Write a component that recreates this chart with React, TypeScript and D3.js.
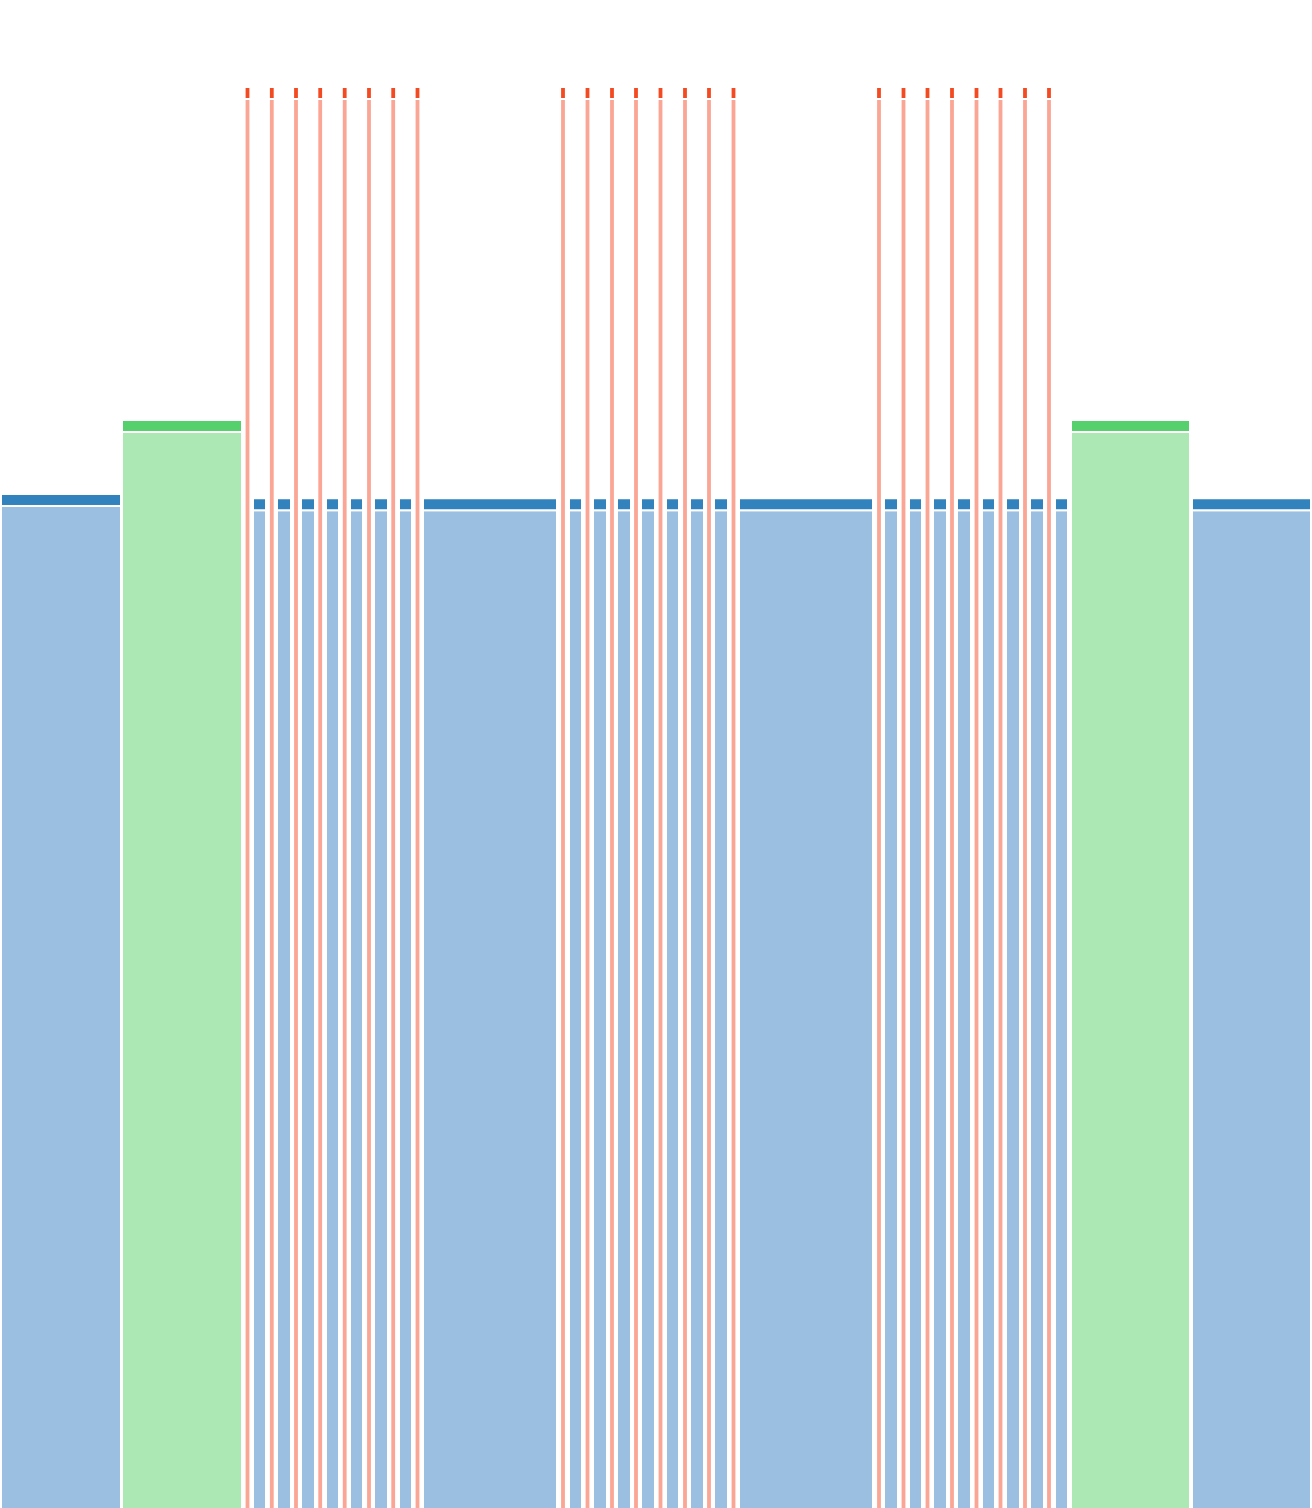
import React, { useEffect, useRef } from 'react';
import * as d3 from 'd3';

// span of each bar on the x axis (start, end) and its value
const blueStarts = [
  1, 253, 277, 301, 326, 350, 374, 399, 423, 569, 593, 617, 641, 666, 690, 714,
  739, 884, 909, 933, 957, 982, 1006, 1030, 1055, 1192,
];
const blueEnds = [
  121, 266, 291, 315, 339, 363, 388, 412, 557, 582, 607, 631, 655, 679, 704, 728,
  873, 898, 922, 947, 971, 995, 1020, 1044, 1068, 1311,
];
const blueValues = [
  71.4, 71.1, 71.1, 71.1, 71.1, 71.1, 71.1, 71.1, 71.1, 71.1, 71.1, 71.1, 71.1,
  71.1, 71.1, 71.1, 71.1, 71.1, 71.1, 71.1, 71.1, 71.1, 71.1, 71.1, 71.1, 71.1,
];

const greenStarts = [122, 1071];
const greenEnds = [242, 1190];
const greenValues = [76.6, 76.6];

const redCenters = [
  247.5, 271.8, 296, 320.2, 344.7, 369, 393.2, 417.5, 563, 587.5, 612, 636,
  660.5, 685, 709, 733.5, 879, 903.5, 927.5, 952, 976.5, 1000.5, 1025, 1049,
];
const redValues = redCenters.map(() => 100);

const series = [
  { name: 'blue', dark: '#3182bd', light: '#9bbfe0' },
  { name: 'green', dark: '#55d06c', light: '#abe8b4' },
  { name: 'red', dark: '#f34a21', light: '#fba594' },
];

const W = 1312;
const H = 1508;
const CAP = 12;

interface Bar {
  start: number;
  end: number;
  value: number;
  kind: string;
}

const App: React.FC = () => {
  const ref = useRef<SVGSVGElement>(null);

  useEffect(() => {
    if (!ref.current) return;
    const svg = d3.select(ref.current);
    svg.selectAll('*').remove();

    const bars: Bar[] = [
      ...blueStarts.map((s, i) => ({ start: s, end: blueEnds[i], value: blueValues[i], kind: 'blue' })),
      ...greenStarts.map((s, i) => ({ start: s, end: greenEnds[i], value: greenValues[i], kind: 'green' })),
      ...redCenters.map((c, i) => ({ start: c - 2.9, end: c + 2.9, value: redValues[i], kind: 'red' })),
    ];

    const x = d3.scaleLinear().domain([0, W]).range([0, W]);
    const y = d3.scaleLinear().domain([0, 100]).range([H + 2, 87]);
    const dark = d3.scaleOrdinal<string, string>()
      .domain(series.map((d) => d.name))
      .range(series.map((d) => d.dark));
    const light = d3.scaleOrdinal<string, string>()
      .domain(series.map((d) => d.name))
      .range(series.map((d) => d.light));

    const g = svg.append('g');

    // light body below the cap
    g.selectAll('rect.body')
      .data(bars)
      .enter()
      .append('rect')
      .attr('class', 'body')
      .attr('x', (d) => x(d.start))
      .attr('width', (d) => x(d.end) - x(d.start))
      .attr('y', (d) => y(d.value) + CAP)
      .attr('height', (d) => y(0) - y(d.value) - CAP)
      .attr('fill', (d) => light(d.kind))
      .attr('stroke', '#fff')
      .attr('stroke-width', 2);

    // dark cap on top
    g.selectAll('rect.cap')
      .data(bars)
      .enter()
      .append('rect')
      .attr('class', 'cap')
      .attr('x', (d) => x(d.start))
      .attr('width', (d) => x(d.end) - x(d.start))
      .attr('y', (d) => y(d.value))
      .attr('height', CAP)
      .attr('fill', (d) => dark(d.kind))
      .attr('stroke', '#fff')
      .attr('stroke-width', 2);
  }, []);

  return (
    <div style={{ position: 'absolute', left: 0, top: 0, width: W, height: H, overflow: 'hidden', background: '#fff' }}>
      <svg ref={ref} width={W} height={H} style={{ display: 'block' }} />
    </div>
  );
};

export default App;
